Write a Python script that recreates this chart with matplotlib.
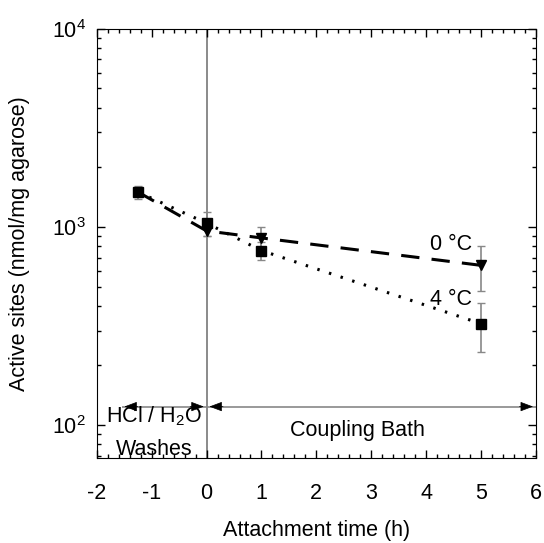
import matplotlib.pyplot as plt
from matplotlib.ticker import MultipleLocator, LogLocator, NullFormatter

plt.rcParams['font.family'] = ['Liberation Sans', 'DejaVu Sans']
plt.rcParams['mathtext.fontset'] = 'custom'
plt.rcParams['mathtext.rm'] = 'Liberation Sans'
plt.rcParams['axes.unicode_minus'] = False

# 4 °C series (squares, dotted)
t_4c = [-1.25, 0, 1, 5]
sites_4c = [1500, 1045, 760, 325]
err_4c = [110, 140, 80, 90]

# 0 °C series (triangles, dashed)
t_0c = [-1.25, 0, 1, 5]
sites_0c = [1500, 955, 880, 640]
err_0c = [0, 60, 120, 165]

fs = 15.5

fig = plt.figure(figsize=(5.44, 5.43), dpi=100)
ax = fig.add_axes([0.178, 0.156, 0.807, 0.791])

ax.axvline(0, color='#777777', lw=1.2, zorder=1)

ax.plot(t_0c, sites_0c, color='black', lw=2.2, dashes=(6, 4), zorder=3)
ax.errorbar(t_0c[1:], sites_0c[1:], yerr=err_0c[1:], fmt='v', color='black',
            ms=7, ecolor='#888888', elinewidth=1.2, capsize=3, zorder=4)

ax.plot(t_4c, sites_4c, color='black', lw=2.2, linestyle=(0, (0.8, 3.2)), zorder=3)
ax.errorbar(t_4c, sites_4c, yerr=err_4c, fmt='s', color='black',
            ms=7, ecolor='#888888', elinewidth=1.2, capsize=3, zorder=4)

# phase arrows: gray shafts, black heads
arrow_y = 124
ax.hlines(arrow_y, -1.55, 6, color='#888888', lw=1.2, zorder=2)
head = dict(arrowstyle='-|>,head_length=0.8,head_width=0.3', color='black', lw=0.5)
for tip, back in [(-1.55, -1.2), (0, -0.35), (0, 0.35), (6, 5.65)]:
    ax.annotate('', xy=(tip, arrow_y), xytext=(back, arrow_y), arrowprops=head)

ax.text(-0.96, 111, r'HCl / H$_2$O', ha='center', va='center', fontsize=fs)
ax.text(-0.96, 75, 'Washes', ha='center', va='center', fontsize=fs)
ax.text(2.75, 94, 'Coupling Bath', ha='center', va='center', fontsize=fs)
ax.text(4.45, 820, '0 °C', ha='center', va='center', fontsize=fs)
ax.text(4.45, 430, '4 °C', ha='center', va='center', fontsize=fs)

ax.set_yscale('log')
ax.set_xlim(-2, 6)
ax.set_ylim(68, 1e4)
ax.xaxis.set_major_locator(MultipleLocator(1))
ax.xaxis.set_minor_locator(MultipleLocator(0.2))
ax.yaxis.set_major_locator(LogLocator(base=10))
ax.yaxis.set_minor_locator(LogLocator(base=10, subs=range(2, 10)))
ax.yaxis.set_minor_formatter(NullFormatter())
ax.tick_params(which='both', direction='in', top=True, right=True, labelsize=fs)
ax.tick_params(which='major', length=6, width=1)
ax.tick_params(which='minor', length=3, width=1)
ax.tick_params(axis='x', pad=18)
ax.tick_params(axis='y', pad=8)

ax.set_xlabel('Attachment time (h)', fontsize=fs)
ax.set_ylabel('Active sites (nmol/mg agarose)', fontsize=fs)
ax.xaxis.set_label_coords(0.5, -0.143)
ax.yaxis.set_label_coords(-0.152, 0.5)

fig.savefig('out.png', dpi=100)
